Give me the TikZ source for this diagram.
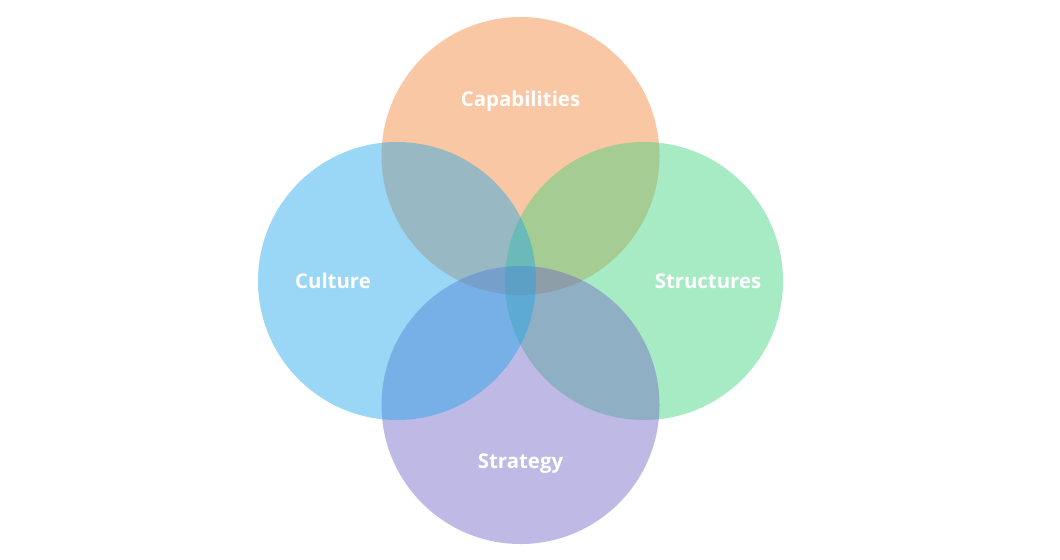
\documentclass[tikz,border=0pt]{standalone}
\usepackage{fontspec}
\setmainfont{Open Sans}
\definecolor{corange}{RGB}{244,133,55}
\definecolor{cblue}{RGB}{33,166,233}
\definecolor{cgreen}{RGB}{62,211,126}
\definecolor{cpurple}{RGB}{115,102,199}
\tikzset{
  petal/.style={circle, minimum size=2.78cm, inner sep=0pt, draw=none, fill opacity=0.45},
  lbl/.style={text=white, font=\fontsize{5.8}{7}\selectfont\bfseries, inner sep=0pt}
}
\begin{document}
\begin{tikzpicture}
\useasboundingbox[fill=white] (0,0) rectangle (10.60,5.59);
\node[petal, fill=corange] (cap) at (5.205,4.03) {};
\node[petal, fill=cgreen] (str) at (6.44,2.78) {};
\node[petal, fill=cpurple] (stg) at (5.205,1.54) {};
\node[petal, fill=cblue] (cul) at (3.97,2.78) {};
\node[lbl] (capl) at (5.205,4.58) {Capabilities};
\node[lbl] (cull) at (3.33,2.78) {Culture};
\node[lbl] (strl) at (7.08,2.78) {Structures};
\node[lbl] (stgl) at (5.205,0.95) {Strategy};
\end{tikzpicture}
\end{document}
